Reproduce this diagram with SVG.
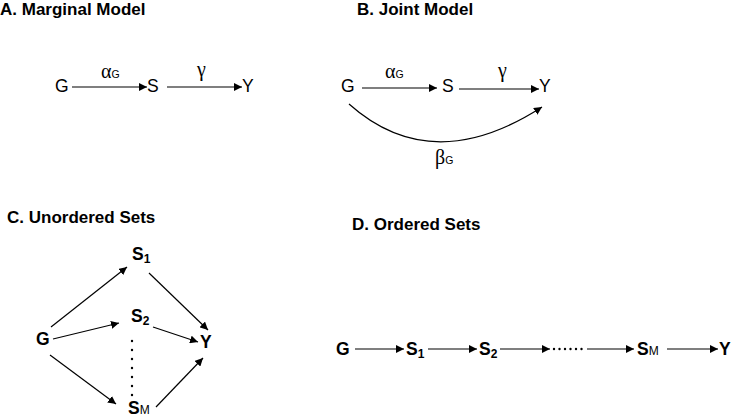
<svg xmlns="http://www.w3.org/2000/svg" width="732" height="419" viewBox="0 0 732 419">
<defs>
<marker id="ah" viewBox="0 0 10 10" refX="10" refY="5" markerWidth="8" markerHeight="8" markerUnits="userSpaceOnUse" orient="auto">
<path d="M0,0 L10,5 L0,10 z" fill="#000"/>
</marker>
<style>
.t{font-family:"Liberation Sans",Arial,sans-serif;font-weight:bold;font-size:17px;fill:#000}
.n{font-family:"Liberation Sans",Arial,sans-serif;font-size:17.5px;fill:#000}
.b{font-family:"Liberation Sans",Arial,sans-serif;font-weight:bold;font-size:17.5px;fill:#000}
.g{font-family:"Liberation Serif","DejaVu Serif",serif;font-size:20px;fill:#000}
.sub{font-family:"Liberation Sans",Arial,sans-serif;font-size:10.5px;fill:#000}
.e{stroke:#000;stroke-width:1.2;fill:none;marker-end:url(#ah)}
</style>
</defs>
<rect width="732" height="419" fill="#fff"/>
<g id="titles">
<text class="t" x="0" y="15">A. Marginal Model</text>
<text class="t" x="357" y="15">B. Joint Model</text>
<text class="t" x="7" y="223">C. Unordered Sets</text>
<text class="t" x="352" y="230">D. Ordered Sets</text>
</g>
<g id="connectors">
<line class="e" x1="72" y1="87" x2="147" y2="87"/>
<line class="e" x1="167" y1="87" x2="242" y2="87"/>
<line class="e" x1="362" y1="88" x2="437" y2="88"/>
<line class="e" x1="459" y1="89" x2="539" y2="89"/>
<path class="e" d="M349,104 Q432,178 542,107"/>
<line class="e" x1="51" y1="327" x2="127" y2="267"/>
<line class="e" x1="53" y1="339" x2="119" y2="323"/>
<line class="e" x1="50" y1="355" x2="116" y2="404"/>
<line class="e" x1="149" y1="273" x2="208" y2="330"/>
<line class="e" x1="153" y1="327" x2="198" y2="342"/>
<line class="e" x1="156" y1="407" x2="203" y2="358"/>
<line class="e" x1="355" y1="349" x2="404" y2="349"/>
<line class="e" x1="428" y1="349" x2="477" y2="349"/>
<line class="e" x1="500" y1="349" x2="550" y2="349"/>
<line class="e" x1="587" y1="349" x2="634" y2="349"/>
<line class="e" x1="667" y1="349" x2="718" y2="349"/>
</g>
<g id="edge-labels">
<text class="g" x="101" y="78">α<tspan class="sub">G</tspan></text>
<text class="g" x="197" y="76">γ</text>
<text class="g" x="385" y="78">α<tspan class="sub">G</tspan></text>
<text class="g" x="498" y="77">γ</text>
<text class="g" x="435" y="164">β<tspan class="sub">G</tspan></text>
</g>
<g id="A-G"><text class="n" x="55" y="92">G</text></g>
<g id="A-S"><text class="n" x="147" y="92">S</text></g>
<g id="A-Y"><text class="n" x="242" y="92">Y</text></g>
<g id="B-G"><text class="n" x="341" y="92">G</text></g>
<g id="B-S"><text class="n" x="442" y="92">S</text></g>
<g id="B-Y"><text class="n" x="539" y="92">Y</text></g>
<g id="C-G"><text class="b" x="36" y="345">G</text></g>
<g id="C-S1"><text class="b" x="132" y="260">S<tspan font-size="12" dy="3">1</tspan></text></g>
<g id="C-S2"><text class="b" x="131" y="322">S<tspan font-size="12" dy="3">2</tspan></text></g>
<g id="C-dots" fill="#000"><circle cx="132" cy="341" r="1.2"/><circle cx="132" cy="350" r="1.2"/><circle cx="132" cy="359" r="1.2"/><circle cx="132" cy="368" r="1.2"/><circle cx="132" cy="377" r="1.2"/><circle cx="132" cy="386" r="1.2"/><circle cx="132" cy="395" r="1.2"/></g>
<g id="C-SM"><text class="b" x="128" y="414">S<tspan font-size="12" font-weight="normal">M</tspan></text></g>
<g id="C-Y"><text class="b" x="200" y="348">Y</text></g>
<g id="D-G"><text class="b" x="336" y="355">G</text></g>
<g id="D-S1"><text class="b" x="406" y="355">S<tspan font-size="12" dy="3">1</tspan></text></g>
<g id="D-S2"><text class="b" x="479" y="355">S<tspan font-size="12" dy="3">2</tspan></text></g>
<g id="D-dots" fill="#000"><circle cx="554" cy="349" r="1.2"/><circle cx="559.5" cy="349" r="1.2"/><circle cx="565" cy="349" r="1.2"/><circle cx="570.5" cy="349" r="1.2"/><circle cx="576" cy="349" r="1.2"/><circle cx="581.5" cy="349" r="1.2"/></g>
<g id="D-SM"><text class="b" x="637" y="355">S<tspan font-size="12" font-weight="normal">M</tspan></text></g>
<g id="D-Y"><text class="b" x="719" y="355">Y</text></g>
</svg>
